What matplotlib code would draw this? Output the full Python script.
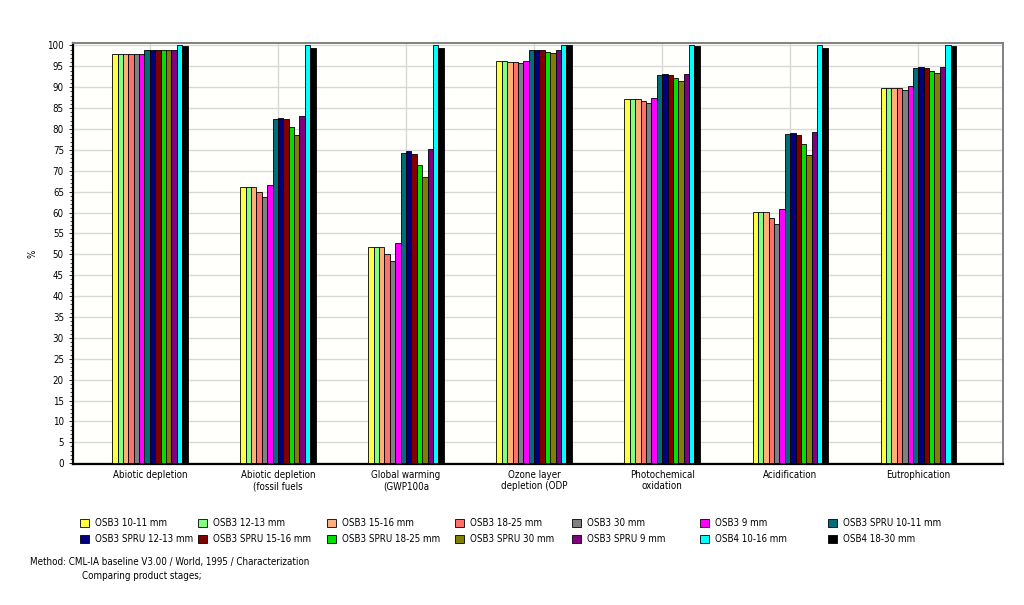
import matplotlib.pyplot as plt
import numpy as np
from matplotlib.patches import Patch
from matplotlib.ticker import MultipleLocator

plt.rcParams["font.family"] = ["DejaVu Sans"]
plt.rcParams["font.stretch"] = "condensed"

categories = ["Abiotic depletion", "Abiotic depletion\n(fossil fuels", "Global warming\n(GWP100a",
              "Ozone layer\ndepletion (ODP", "Photochemical\noxidation", "Acidification", "Eutrophication"]

series_names = ["OSB3 10-11 mm", "OSB3 12-13 mm", "OSB3 15-16 mm", "OSB3 18-25 mm", "OSB3 30 mm",
                "OSB3 9 mm", "OSB3 SPRU 10-11 mm", "OSB3 SPRU 12-13 mm", "OSB3 SPRU 15-16 mm",
                "OSB3 SPRU 18-25 mm", "OSB3 SPRU 30 mm", "OSB3 SPRU 9 mm", "OSB4 10-16 mm", "OSB4 18-30 mm"]

colors = ["#ffff40", "#80ff80", "#ffb07a", "#ff7068", "#808080", "#ff00ff", "#006e78",
          "#000080", "#800000", "#00e000", "#808000", "#800080", "#00ffff", "#000000"]

# one list per series, values per category (%)
osb3_10_11 = [98.0, 66.0, 51.8, 96.2, 87.2, 60.1, 89.9]
osb3_12_13 = [98.0, 66.0, 51.8, 96.2, 87.2, 60.1, 89.9]
osb3_15_16 = [98.0, 66.0, 51.8, 96.1, 87.2, 60.1, 89.9]
osb3_18_25 = [98.0, 65.0, 50.1, 96.0, 86.6, 58.8, 89.7]
osb3_30 = [98.0, 63.7, 48.4, 95.8, 86.2, 57.2, 89.3]
osb3_9 = [98.0, 66.7, 52.7, 96.4, 87.5, 60.9, 90.2]
spru_10_11 = [98.9, 82.5, 74.2, 98.8, 93.0, 78.7, 94.6]
spru_12_13 = [99.0, 82.7, 74.8, 98.8, 93.2, 79.1, 94.8]
spru_15_16 = [99.0, 82.3, 73.9, 98.8, 93.0, 78.5, 94.6]
spru_18_25 = [99.0, 80.4, 71.3, 98.4, 92.2, 76.3, 94.0]
spru_30 = [98.8, 78.5, 68.6, 98.2, 91.4, 73.7, 93.4]
spru_9 = [98.9, 83.0, 75.1, 98.8, 93.2, 79.3, 94.8]
osb4_10_16 = [100.0, 100.0, 100.0, 100.0, 100.0, 100.0, 100.0]
osb4_18_30 = [99.8, 99.5, 99.3, 100.0, 99.8, 99.4, 99.8]

data = [osb3_10_11, osb3_12_13, osb3_15_16, osb3_18_25, osb3_30, osb3_9, spru_10_11,
        spru_12_13, spru_15_16, spru_18_25, spru_30, spru_9, osb4_10_16, osb4_18_30]

fig = plt.figure(figsize=(10.24, 6.05), dpi=100)
ax = fig.add_axes([0.0713, 0.233, 0.908, 0.696])
ax.set_facecolor("#fffffb")

ind = np.arange(len(categories))
n = len(data)
width = 0.042
for i, vals in enumerate(data):
    ax.bar(ind + (i - (n - 1) / 2) * width, vals, width, color=colors[i],
           edgecolor="black", linewidth=0.6, zorder=3)

ax.set_xlim(-0.6, 6.66)
ax.set_ylim(-0.2, 100.6)
ax.yaxis.set_major_locator(MultipleLocator(5))
ax.yaxis.set_minor_locator(MultipleLocator(1))
ax.set_xticks(ind)
ax.set_xticklabels(categories, fontsize=7)
ax.tick_params(axis="y", labelsize=7, length=3, width=0.6)
ax.tick_params(axis="y", which="minor", length=2, width=0.5)
ax.tick_params(axis="x", length=0, pad=4)
ax.grid(True, color="#d8d8d8", linewidth=1.0, zorder=0)
ax.set_axisbelow(True)

for s in ["left", "bottom"]:
    ax.spines[s].set_linewidth(1.6)
    ax.spines[s].set_color("black")
for s in ["top", "right"]:
    ax.spines[s].set_linewidth(1.4)
    ax.spines[s].set_color("#808080")

ax.set_ylabel("%", fontsize=7)
ax.yaxis.set_label_coords(-0.038, 0.5)

# legend: 7 columns, two rows, placed column by column
handles = [Patch(facecolor=c, edgecolor="black", linewidth=0.6) for c in colors]
col_px = [80, 198, 327, 455, 572, 700, 828]
for j in range(7):
    fig.legend([handles[j], handles[j + 7]], [series_names[j], series_names[j + 7]],
               loc="upper left", bbox_to_anchor=(col_px[j] / 1024, 0.143), frameon=False,
               fontsize=7, handlelength=0.9, handleheight=0.9, handletextpad=0.6,
               labelspacing=0.6, borderaxespad=0, borderpad=0)

fig.text(0.029, 0.066, "Method: CML-IA baseline V3.00 / World, 1995 / Characterization", fontsize=7)
fig.text(0.08, 0.043, "Comparing product stages;", fontsize=7)

plt.savefig("out.png", dpi=100)
